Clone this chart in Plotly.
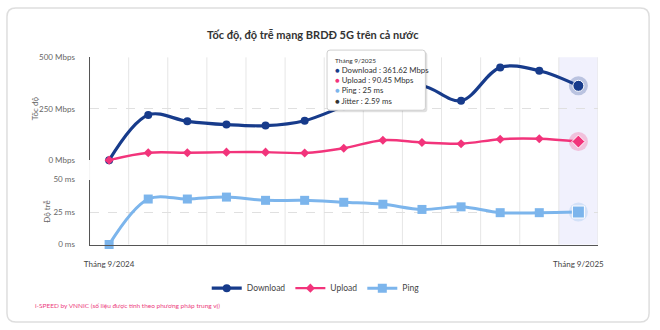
import plotly.graph_objects as go

W, H = 660, 330

months = ["Tháng 9/2024", "Tháng 10/2024", "Tháng 11/2024", "Tháng 12/2024",
          "Tháng 1/2025", "Tháng 2/2025", "Tháng 3/2025", "Tháng 4/2025",
          "Tháng 5/2025", "Tháng 6/2025", "Tháng 7/2025", "Tháng 8/2025",
          "Tháng 9/2025"]
download = [0, 220, 189, 173, 168, 192, 262, 330, 362, 289, 451, 435, 361.62]
upload = [0, 36, 36, 39, 39, 35, 58, 97, 86, 80, 102, 104, 90.45]
ping = [0, 35, 35, 36.5, 34, 34, 32.5, 31, 27, 29, 24.5, 24.5, 25]
jitter_last = 2.59

speed_ticks = [0, 250, 500]
speed_labels = ["0 Mbps", "250 Mbps", "500 Mbps"]
ping_ticks = [0, 25, 50]
ping_labels = ["0 ms", "25 ms", "50 ms"]

C_DL = "#173b8b"
C_UL = "#f2347b"
C_PING = "#7cb5ec"
FONT = "Lato"

def X(px):
    return px / W

def Y(py):
    return 1 - py / H

idx = list(range(len(months)))
last = idx[-1]

fig = go.Figure()

fig.add_trace(go.Scatter(x=idx, y=download, name="Download", mode="lines+markers",
                         line=dict(color=C_DL, width=3.2, shape="spline", smoothing=1),
                         marker=dict(symbol="circle", size=8, color=C_DL),
                         xaxis="x", yaxis="y", cliponaxis=False))
fig.add_trace(go.Scatter(x=idx, y=upload, name="Upload", mode="lines+markers",
                         line=dict(color=C_UL, width=2.4, shape="spline", smoothing=1),
                         marker=dict(symbol="diamond", size=7, color=C_UL),
                         xaxis="x", yaxis="y", cliponaxis=False))
fig.add_trace(go.Scatter(x=idx, y=ping, name="Ping", mode="lines+markers",
                         line=dict(color=C_PING, width=3, shape="spline", smoothing=1),
                         marker=dict(symbol="square", size=9, color=C_PING),
                         xaxis="x2", yaxis="y2", cliponaxis=False))

# hover halos on last point
for ys, col, sym, sz, ax in [(download, C_DL, "circle", 11, ("x", "y")),
                             (upload, C_UL, "diamond", 10, ("x", "y")),
                             (ping, C_PING, "square", 12, ("x2", "y2"))]:
    fig.add_trace(go.Scatter(x=[last], y=[ys[last]], mode="markers", showlegend=False,
                             marker=dict(symbol="circle", size=19, color=col, opacity=0.25),
                             xaxis=ax[0], yaxis=ax[1], cliponaxis=False, hoverinfo="skip"))
    fig.add_trace(go.Scatter(x=[last], y=[ys[last]], mode="markers", showlegend=False,
                             marker=dict(symbol=sym, size=sz, color=col,
                                         line=dict(color="white", width=1)),
                             xaxis=ax[0], yaxis=ax[1], cliponaxis=False, hoverinfo="skip"))

tickfont = dict(family=FONT, size=8, color="#666666")

fig.update_layout(
    width=W, height=H, margin=dict(l=0, r=0, t=0, b=0),
    paper_bgcolor="white", plot_bgcolor="rgba(0,0,0,0)",
    font=dict(family=FONT),
    showlegend=True,
    legend=dict(orientation="h", x=X(316), xanchor="center", y=Y(292), yanchor="middle",
                font=dict(family=FONT, size=8.5, color="#444444"), itemwidth=30,
                bgcolor="rgba(0,0,0,0)"),
    xaxis=dict(domain=[X(86), X(603)], range=[-0.5, 12.5], anchor="y",
               showticklabels=False, showgrid=False, zeroline=False),
    xaxis2=dict(domain=[X(86), X(603)], range=[-0.5, 12.5], anchor="y2",
                tickvals=[0, last], ticktext=[months[0], months[last]],
                tickfont=dict(family=FONT, size=8, color="#444444"),
                ticklabelstandoff=12, ticks="",
                showgrid=False, zeroline=False,
                showline=True, linecolor="#555555", linewidth=1.2),
    yaxis=dict(domain=[Y(160), Y(54)], range=[0, 500], anchor="x",
               tickvals=speed_ticks, ticktext=speed_labels, tickfont=tickfont,
               ticklabelstandoff=12, ticks="",
               showgrid=True, gridcolor="#e0e0e0", griddash="dash", zeroline=False,
               showline=True, linecolor="#555555", linewidth=1.2),
    yaxis2=dict(domain=[Y(247), Y(180)], range=[0, 50], anchor="x2",
                tickvals=ping_ticks, ticktext=ping_labels, tickfont=tickfont,
                ticklabelstandoff=12, ticks="",
                showgrid=True, gridcolor="#e0e0e0", griddash="dash", zeroline=False,
                showline=True, linecolor="#555555", linewidth=1.2),
)

def rounded_path(x0, y0, x1, y1, r):
    pts = [f"M {X(x0 + r)} {Y(y0)}",
           f"L {X(x1 - r)} {Y(y0)}",
           f"Q {X(x1)} {Y(y0)} {X(x1)} {Y(y0 + r)}",
           f"L {X(x1)} {Y(y1 - r)}",
           f"Q {X(x1)} {Y(y1)} {X(x1 - r)} {Y(y1)}",
           f"L {X(x0 + r)} {Y(y1)}",
           f"Q {X(x0)} {Y(y1)} {X(x0)} {Y(y1 - r)}",
           f"L {X(x0)} {Y(y0 + r)}",
           f"Q {X(x0)} {Y(y0)} {X(x0 + r)} {Y(y0)}"]
    return " ".join(pts) + " Z"

shapes = []
shapes.append(dict(type="path", xref="paper", yref="paper",
                   path=rounded_path(2, 3, 655, 327, 9),
                   line=dict(color="#dedede", width=1.5), fillcolor="rgba(0,0,0,0)",
                   layer="below"))
# highlight band for hovered month
shapes.append(dict(type="rect", xref="x", yref="paper", x0=last - 0.5, x1=last + 0.5,
                   y0=Y(247), y1=Y(54), fillcolor="#f1f1fd", line=dict(width=0),
                   layer="below"))
# continuous vertical grid lines at month boundaries
for i in range(len(months) + 1):
    shapes.append(dict(type="line", xref="x", yref="paper", x0=i - 0.5, x1=i - 0.5,
                       y0=Y(247), y1=Y(54), line=dict(color="#e6e6e6", width=1),
                       layer="below"))
# tooltip shadow + box
shapes.append(dict(type="path", xref="paper", yref="paper",
                   path=rounded_path(329.5, 48.5, 429.5, 110.5, 3),
                   fillcolor="rgba(0,0,0,0.12)", line=dict(width=0), layer="above"))
shapes.append(dict(type="path", xref="paper", yref="paper",
                   path=rounded_path(327.5, 46.5, 427.5, 108.5, 3),
                   fillcolor="white", line=dict(color="#cfcfcf", width=1), layer="above"))
fig.update_layout(shapes=shapes)

tip = (f"<span style='font-size:6.5px'>{months[last]}</span><br>"
       f"<span style='color:{C_DL}'>●</span> Download : {download[last]:.2f} Mbps<br>"
       f"<span style='color:{C_UL}'>●</span> Upload : {upload[last]:.2f} Mbps<br>"
       f"<span style='color:{C_PING}'>●</span> Ping : {ping[last]:g} ms<br>"
       f"<span style='color:#333333'>●</span> Jitter : {jitter_last:.2f} ms")

annotations = [
    dict(text="<b>Tốc độ, độ trễ mạng BRDĐ 5G trên cả nước</b>", x=X(313), y=Y(30),
         xref="paper", yref="paper", xanchor="center", yanchor="middle", showarrow=False,
         font=dict(family=FONT, size=11, color="#333333")),
    dict(text="Tốc độ", x=X(30), y=Y(107), xref="paper", yref="paper", textangle=-90,
         xanchor="center", yanchor="middle", showarrow=False,
         font=dict(family=FONT, size=8, color="#666666")),
    dict(text="Độ trễ", x=X(42), y=Y(213), xref="paper", yref="paper", textangle=-90,
         xanchor="center", yanchor="middle", showarrow=False,
         font=dict(family=FONT, size=8, color="#666666")),
    dict(text="i-SPEED by VNNIC (số liệu được tính theo phương pháp trung vị)",
         x=X(28), y=Y(310), xref="paper", yref="paper", xanchor="left", yanchor="middle",
         showarrow=False, font=dict(family=FONT, size=6.5, color="#ec3d7e")),
    dict(text=tip, x=X(334), y=Y(52), xref="paper", yref="paper", xanchor="left",
         yanchor="top", align="left", showarrow=False,
         font=dict(family=FONT, size=7.8, color="#333333")),
]
fig.update_layout(annotations=annotations)

fig.write_html("out.html")
